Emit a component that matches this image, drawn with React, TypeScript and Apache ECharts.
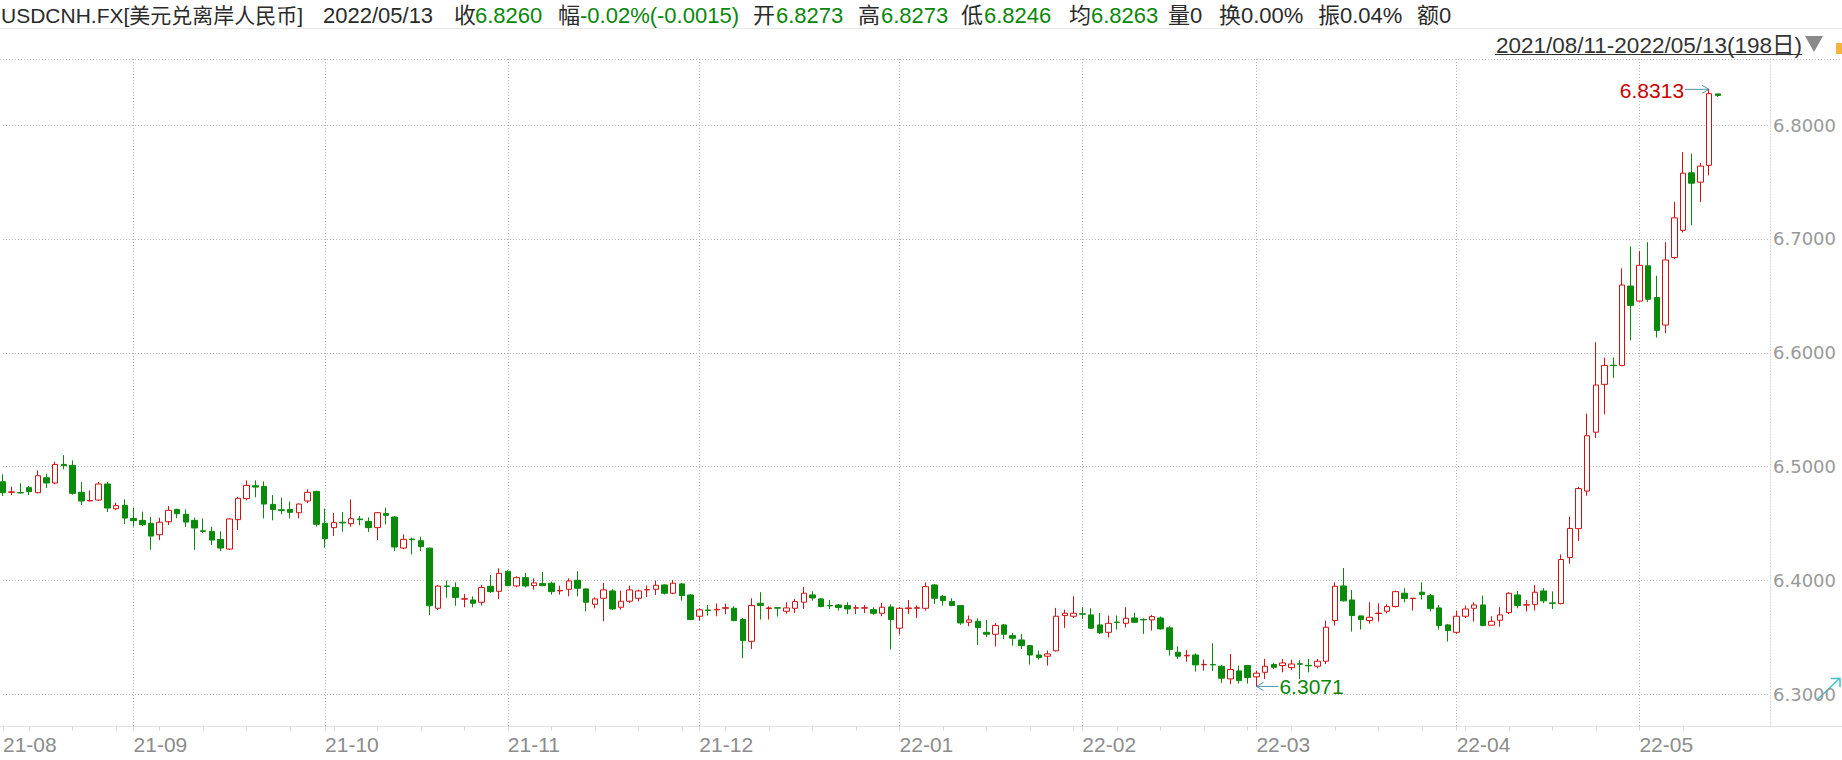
import React, { useEffect, useRef } from 'react';
import * as echarts from 'echarts';

// ---------- data ----------
const symbolName = 'USDCNH.FX[美元兑离岸人民币]';
const quoteDate = '2022/05/13';
const changeText = '-0.02%(-0.0015)';
const avgText = '6.8263';
const rangeText = '2021/08/11-2022/05/13(198日)';

// trading days (weekdays) from 2021-08-11, 198 sessions
const firstDay = '2021-08-11';
const sessionCount = 198;
const padSlots = 6;

// [open, close, low, high]
const ohlc: number[][] = [
  [6.4868, 6.4772, 6.4743, 6.4933], [6.4775, 6.4779, 6.4751, 6.4824], [6.4773, 6.4770, 6.4763, 6.4854], [6.4816, 6.4781, 6.4751, 6.4830],
  [6.4772, 6.4921, 6.4766, 6.4968], [6.4903, 6.4857, 6.4813, 6.4939], [6.4857, 6.5020, 6.4845, 6.5044], [6.5020, 6.5009, 6.4977, 6.5102],
  [6.5012, 6.4766, 6.4754, 6.5056], [6.4775, 6.4699, 6.4664, 6.4865], [6.4700, 6.4703, 6.4696, 6.4792], [6.4707, 6.4848, 6.4699, 6.4865],
  [6.4848, 6.4637, 6.4602, 6.4865], [6.4631, 6.4658, 6.4617, 6.4684], [6.4661, 6.4549, 6.4497, 6.4713], [6.4546, 6.4526, 6.4474, 6.4640],
  [6.4529, 6.4491, 6.4479, 6.4605], [6.4503, 6.4391, 6.4270, 6.4558], [6.4403, 6.4512, 6.4356, 6.4552], [6.4517, 6.4617, 6.4488, 6.4655],
  [6.4625, 6.4587, 6.4549, 6.4631], [6.4582, 6.4514, 6.4470, 6.4625], [6.4529, 6.4462, 6.4270, 6.4552], [6.4437, 6.4432, 6.4418, 6.4546],
  [6.4432, 6.4356, 6.4312, 6.4473], [6.4362, 6.4286, 6.4260, 6.4432], [6.4277, 6.4541, 6.4270, 6.4546], [6.4535, 6.4722, 6.4444, 6.4736],
  [6.4719, 6.4836, 6.4705, 6.4880], [6.4833, 6.4821, 6.4731, 6.4880], [6.4827, 6.4672, 6.4546, 6.4871], [6.4669, 6.4625, 6.4529, 6.4751],
  [6.4622, 6.4614, 6.4582, 6.4728], [6.4625, 6.4599, 6.4546, 6.4693], [6.4596, 6.4672, 6.4546, 6.4678], [6.4699, 6.4775, 6.4681, 6.4801],
  [6.4783, 6.4494, 6.4474, 6.4789], [6.4503, 6.4368, 6.4289, 6.4631], [6.4465, 6.4509, 6.4391, 6.4593], [6.4512, 6.4506, 6.4429, 6.4602],
  [6.4500, 6.4544, 6.4473, 6.4713], [6.4541, 6.4535, 6.4485, 6.4567], [6.4520, 6.4465, 6.4427, 6.4555], [6.4465, 6.4596, 6.4356, 6.4602],
  [6.4590, 6.4573, 6.4494, 6.4640], [6.4558, 6.4295, 6.4260, 6.4567], [6.4286, 6.4362, 6.4274, 6.4406], [6.4365, 6.4359, 6.4230, 6.4377],
  [6.4350, 6.4298, 6.4260, 6.4385], [6.4285, 6.3779, 6.3698, 6.4289], [6.3757, 6.3952, 6.3743, 6.3962], [6.3953, 6.3949, 6.3849, 6.4000],
  [6.3940, 6.3852, 6.3779, 6.3985], [6.3837, 6.3841, 6.3766, 6.3883], [6.3830, 6.3801, 6.3766, 6.3862], [6.3810, 6.3939, 6.3781, 6.3962],
  [6.3950, 6.3903, 6.3892, 6.4050], [6.3906, 6.4064, 6.3839, 6.4108], [6.4082, 6.3956, 6.3950, 6.4088], [6.3953, 6.4026, 6.3941, 6.4038],
  [6.4026, 6.3953, 6.3939, 6.4067], [6.3956, 6.3980, 6.3921, 6.4020], [6.3974, 6.3956, 6.3950, 6.4076], [6.3977, 6.3903, 6.3877, 6.3991],
  [6.3910, 6.3913, 6.3877, 6.3956], [6.3924, 6.3997, 6.3862, 6.4020], [6.4003, 6.3933, 6.3862, 6.4082], [6.3927, 6.3810, 6.3731, 6.3933],
  [6.3792, 6.3839, 6.3757, 6.3854], [6.3845, 6.3918, 6.3643, 6.3980], [6.3909, 6.3751, 6.3742, 6.3927], [6.3766, 6.3819, 6.3745, 6.3912],
  [6.3819, 6.3918, 6.3804, 6.3956], [6.3845, 6.3909, 6.3819, 6.3921], [6.3919, 6.3921, 6.3854, 6.3956], [6.3924, 6.3959, 6.3874, 6.4000],
  [6.3962, 6.3889, 6.3877, 6.3968], [6.3889, 6.3977, 6.3880, 6.4006], [6.3971, 6.3868, 6.3824, 6.3980], [6.3874, 6.3658, 6.3652, 6.3880],
  [6.3687, 6.3743, 6.3649, 6.3757], [6.3742, 6.3737, 6.3693, 6.3786], [6.3743, 6.3748, 6.3687, 6.3798], [6.3757, 6.3762, 6.3705, 6.3798],
  [6.3757, 6.3649, 6.3643, 6.3775], [6.3658, 6.3473, 6.3318, 6.3672], [6.3467, 6.3781, 6.3400, 6.3845], [6.3801, 6.3781, 6.3658, 6.3898],
  [6.3755, 6.3760, 6.3658, 6.3775], [6.3762, 6.3758, 6.3684, 6.3766], [6.3731, 6.3760, 6.3710, 6.3810], [6.3757, 6.3816, 6.3716, 6.3839],
  [6.3810, 6.3889, 6.3751, 6.3944], [6.3874, 6.3848, 6.3824, 6.3906], [6.3839, 6.3772, 6.3766, 6.3848], [6.3782, 6.3778, 6.3751, 6.3830],
  [6.3786, 6.3763, 6.3737, 6.3795], [6.3781, 6.3751, 6.3707, 6.3810], [6.3758, 6.3762, 6.3707, 6.3786], [6.3758, 6.3762, 6.3716, 6.3786],
  [6.3745, 6.3713, 6.3699, 6.3766], [6.3713, 6.3766, 6.3687, 6.3804], [6.3769, 6.3658, 6.3394, 6.3792], [6.3582, 6.3757, 6.3526, 6.3766],
  [6.3754, 6.3760, 6.3707, 6.3830], [6.3757, 6.3762, 6.3672, 6.3781], [6.3757, 6.3947, 6.3737, 6.3985], [6.3962, 6.3845, 6.3795, 6.3971],
  [6.3862, 6.3824, 6.3781, 6.3874], [6.3816, 6.3781, 6.3775, 6.3845], [6.3781, 6.3628, 6.3611, 6.3786], [6.3634, 6.3655, 6.3599, 6.3693],
  [6.3643, 6.3587, 6.3435, 6.3669], [6.3546, 6.3529, 6.3503, 6.3655], [6.3529, 6.3605, 6.3421, 6.3628], [6.3611, 6.3529, 6.3488, 6.3620],
  [6.3517, 6.3494, 6.3429, 6.3541], [6.3479, 6.3429, 6.3400, 6.3532], [6.3429, 6.3347, 6.3263, 6.3435], [6.3347, 6.3324, 6.3307, 6.3386],
  [6.3336, 6.3356, 6.3254, 6.3386], [6.3383, 6.3687, 6.3377, 6.3760], [6.3693, 6.3713, 6.3585, 6.3745], [6.3687, 6.3713, 6.3672, 6.3862],
  [6.3709, 6.3705, 6.3663, 6.3766], [6.3699, 6.3582, 6.3576, 6.3757], [6.3611, 6.3541, 6.3532, 6.3716], [6.3546, 6.3625, 6.3500, 6.3693],
  [6.3636, 6.3632, 6.3570, 6.3693], [6.3625, 6.3669, 6.3587, 6.3766], [6.3672, 6.3634, 6.3628, 6.3716], [6.3659, 6.3655, 6.3532, 6.3669],
  [6.3655, 6.3684, 6.3561, 6.3699], [6.3672, 6.3576, 6.3570, 6.3684], [6.3585, 6.3394, 6.3342, 6.3599], [6.3371, 6.3336, 6.3312, 6.3424],
  [6.3339, 6.3344, 6.3289, 6.3391], [6.3347, 6.3260, 6.3201, 6.3362], [6.3261, 6.3264, 6.3210, 6.3307], [6.3264, 6.3260, 6.3207, 6.3450],
  [6.3248, 6.3143, 6.3102, 6.3260], [6.3137, 6.3219, 6.3090, 6.3356], [6.3207, 6.3122, 6.3096, 6.3254], [6.3254, 6.3149, 6.3096, 6.3260],
  [6.3155, 6.3187, 6.3071, 6.3210], [6.3195, 6.3248, 6.3137, 6.3312], [6.3263, 6.3239, 6.3225, 6.3277], [6.3254, 6.3277, 6.3195, 6.3310],
  [6.3236, 6.3268, 6.3215, 6.3305], [6.3270, 6.3266, 6.3137, 6.3304], [6.3256, 6.3252, 6.3195, 6.3312], [6.3248, 6.3292, 6.3230, 6.3312],
  [6.3292, 6.3590, 6.3268, 6.3649], [6.3649, 6.3950, 6.3605, 6.3985], [6.3953, 6.3822, 6.3816, 6.4111], [6.3830, 6.3693, 6.3552, 6.3918],
  [6.3690, 6.3658, 6.3570, 6.3693], [6.3649, 6.3678, 6.3623, 6.3810], [6.3711, 6.3714, 6.3640, 6.3801], [6.3731, 6.3772, 6.3713, 6.3792],
  [6.3772, 6.3903, 6.3763, 6.3912], [6.3889, 6.3842, 6.3810, 6.3933], [6.3842, 6.3845, 6.3737, 6.3848], [6.3898, 6.3877, 6.3833, 6.3985],
  [6.3868, 6.3754, 6.3728, 6.3883], [6.3760, 6.3605, 6.3570, 6.3786], [6.3611, 6.3561, 6.3465, 6.3620], [6.3546, 6.3687, 6.3532, 6.3737],
  [6.3687, 6.3751, 6.3672, 6.3781], [6.3757, 6.3786, 6.3640, 6.3810], [6.3786, 6.3605, 6.3599, 6.3868], [6.3608, 6.3643, 6.3605, 6.3687],
  [6.3652, 6.3699, 6.3596, 6.3766], [6.3719, 6.3889, 6.3707, 6.3898], [6.3874, 6.3781, 6.3757, 6.3909], [6.3785, 6.3788, 6.3728, 6.3830],
  [6.3792, 6.3898, 6.3737, 6.3962], [6.3909, 6.3822, 6.3801, 6.3933], [6.3804, 6.3800, 6.3750, 6.3905], [6.3798, 6.4185, 6.3792, 6.4230],
  [6.4203, 6.4458, 6.4148, 6.4560], [6.4456, 6.4808, 6.4347, 6.4823], [6.4786, 6.5272, 6.4745, 6.5466], [6.5303, 6.5717, 6.5253, 6.6093],
  [6.5723, 6.5889, 6.5460, 6.5958], [6.5891, 6.5887, 6.5780, 6.5958], [6.5889, 6.6595, 6.5883, 6.6742], [6.6586, 6.6416, 6.6109, 6.6934],
  [6.6454, 6.6768, 6.6448, 6.6893], [6.6764, 6.6470, 6.6448, 6.6971], [6.6485, 6.6197, 6.6134, 6.6677], [6.6244, 6.6815, 6.6172, 6.6971],
  [6.6837, 6.7185, 6.6824, 6.7326], [6.7075, 6.7577, 6.7056, 6.7762], [6.7580, 6.7489, 6.7119, 6.7749], [6.7498, 6.7639, 6.7323, 6.7668],
  [6.7646, 6.8275, 6.7558, 6.8313], [6.8273, 6.8260, 6.8246, 6.8273],
];

const yTickValues = [6.3, 6.4, 6.5, 6.6, 6.7, 6.8];
const yMin = 6.27234;
const yMax = 6.85795;

// ---------- helpers ----------
function weekdayDates(start: string, count: number): string[] {
  const out: string[] = [];
  const d = new Date(start + 'T00:00:00Z');
  while (out.length < count) {
    const wd = d.getUTCDay();
    if (wd !== 0 && wd !== 6) out.push(d.toISOString().slice(0, 10));
    d.setUTCDate(d.getUTCDate() + 1);
  }
  return out;
}

const dates = weekdayDates(firstDay, sessionCount);
const categories = [...dates];
for (let k = 1; k <= padSlots; k++) categories.push('pad' + k);

const monthStart = new Set<number>();
const weekTicks = new Set<number>();
dates.forEach((d, i) => {
  if (i === 0 || d.slice(0, 7) !== dates[i - 1].slice(0, 7)) monthStart.add(i);
  if (new Date(d + 'T00:00:00Z').getUTCDay() === 1) weekTicks.add(i);
});

// ---------- style ----------
const UP = '#d41212';
const DOWN = '#0a8a0a';
const GRID = '#b8b8b8';
const DARK = '#2a2a2a';
const GREEN_TXT = '#0a870a';
const LATIN = '"Liberation Sans", "Noto Sans CJK SC", sans-serif';

export default function App() {
  const ref = useRef<HTMLDivElement>(null);

  useEffect(() => {
    if (!ref.current) return;
    const chart = echarts.init(ref.current, undefined, { renderer: 'svg' });

    const last = ohlc[ohlc.length - 1];
    const fmt = (v: number) => v.toFixed(4);

    const headerItems: { t: string; x: number; c: string; s: number }[] = [
      { t: symbolName, x: 1, c: DARK, s: 21 },
      { t: quoteDate, x: 323, c: DARK, s: 22 },
      { t: '收', x: 454, c: DARK, s: 22 }, { t: fmt(last[1]), x: 475, c: GREEN_TXT, s: 22 },
      { t: '幅', x: 558, c: DARK, s: 22 }, { t: changeText, x: 580, c: GREEN_TXT, s: 22 },
      { t: '开', x: 753, c: DARK, s: 22 }, { t: fmt(last[0]), x: 776, c: GREEN_TXT, s: 22 },
      { t: '高', x: 858, c: DARK, s: 22 }, { t: fmt(last[3]), x: 881, c: GREEN_TXT, s: 22 },
      { t: '低', x: 961, c: DARK, s: 22 }, { t: fmt(last[2]), x: 984, c: GREEN_TXT, s: 22 },
      { t: '均', x: 1069, c: DARK, s: 22 }, { t: avgText, x: 1091, c: GREEN_TXT, s: 22 },
      { t: '量0', x: 1168, c: DARK, s: 22 },
      { t: '换0.00%', x: 1219, c: DARK, s: 22 },
      { t: '振0.04%', x: 1318, c: DARK, s: 22 },
      { t: '额0', x: 1417, c: DARK, s: 22 },
    ];

    const isTick = (v: number) => yTickValues.some((t) => Math.abs(t - v) < 1e-6);

    chart.setOption({
      animation: false,
      backgroundColor: '#fff',
      grid: { left: 2, right: 72, top: 59, bottom: 34, containLabel: false },
      xAxis: {
        type: 'category',
        data: categories,
        boundaryGap: false,
        axisLine: { show: false },
        axisTick: {
          show: true,
          interval: (i: number) => weekTicks.has(i) || monthStart.has(i),
          length: 5,
          lineStyle: { color: '#dadada' },
        },
        axisLabel: {
          interval: (i: number) => monthStart.has(i),
          formatter: (v: string) => v.slice(2, 7),
          color: '#8c8c8c',
          fontSize: 21,
          fontFamily: 'Liberation Sans',
          align: 'left',
          margin: 8,
        },
        splitLine: {
          show: true,
          interval: (i: number) => monthStart.has(i) && i > 0,
          lineStyle: { color: GRID, type: [1, 2] },
        },
      },
      yAxis: {
        type: 'value',
        position: 'right',
        min: yMin,
        max: yMax,
        splitNumber: 5,
        axisLine: { show: true, lineStyle: { color: '#d0d0d0', type: [1, 2] } },
        axisTick: { show: false },
        axisLabel: {
          margin: 3,
          color: '#999',
          fontSize: 18,
          fontFamily: 'DejaVu Sans',
          align: 'left',
          formatter: (v: number) => (isTick(v) ? v.toFixed(4) : ''),
        },
        splitLine: { show: true, lineStyle: { color: GRID, type: [1, 2] } },
      },
      series: [
        {
          type: 'candlestick',
          data: ohlc,
          barWidth: 6,
          clip: false,
          itemStyle: {
            color: '#ffffff',
            color0: DOWN,
            borderColor: UP,
            borderColor0: DOWN,
            borderWidth: 1,
          },
        },
      ],
    });

    // annotations for the extreme high / low
    let iMax = 0, iMin = 0;
    ohlc.forEach((r, i) => {
      if (r[3] > ohlc[iMax][3]) iMax = i;
      if (r[2] < ohlc[iMin][2]) iMin = i;
    });
    const pMax = chart.convertToPixel({ gridIndex: 0 }, [iMax, ohlc[iMax][3]]) as number[];
    const pMin = chart.convertToPixel({ gridIndex: 0 }, [iMin, ohlc[iMin][2]]) as number[];
    const ARROW = '#4b95a8';

    const graphic: any[] = [
      { type: 'line', silent: true, shape: { x1: 0, y1: 28.5, x2: 1842, y2: 28.5 }, style: { stroke: '#e8e8e8', lineWidth: 1 } },
      { type: 'line', silent: true, shape: { x1: 0, y1: 59.5, x2: 1842, y2: 59.5 }, style: { stroke: GRID, lineWidth: 1, lineDash: [1, 2] } },
      { type: 'line', silent: true, shape: { x1: 0, y1: 726.5, x2: 1842, y2: 726.5 }, style: { stroke: '#e2e2e2', lineWidth: 1 } },
      ...headerItems.map((h) => ({
        type: 'text', silent: true, x: h.x, y: 15,
        style: { text: h.t, fill: h.c, fontSize: h.s, fontFamily: LATIN, align: 'left', textAlign: 'left', verticalAlign: 'middle', textVerticalAlign: 'middle' },
      })),
      {
        type: 'text', silent: true, x: 1802, y: 45,
        style: { text: rangeText, fill: '#333', fontSize: 22.5, fontFamily: LATIN, align: 'right', textAlign: 'right', verticalAlign: 'middle', textVerticalAlign: 'middle' },
      },
      { type: 'line', silent: true, shape: { x1: 1495, y1: 54.5, x2: 1802, y2: 54.5 }, style: { stroke: '#333', lineWidth: 1 } },
      { type: 'polygon', silent: true, shape: { points: [[1805, 36], [1823, 36], [1814, 52]] }, style: { fill: '#8a8a8a' } },
      { type: 'rect', silent: true, shape: { x: 1836, y: 43, width: 8, height: 11 }, style: { fill: '#f3b53c' } },
      { type: 'polyline', silent: true, shape: { points: [[1817, 700], [1840, 678]] }, style: { stroke: '#3fc0c8', lineWidth: 1.5, fill: 'none' } },
      { type: 'polyline', silent: true, shape: { points: [[1831, 678.5], [1840, 678.5], [1840, 687]] }, style: { stroke: '#3fc0c8', lineWidth: 1.5, fill: 'none' } },
      // max label
      { type: 'line', silent: true, shape: { x1: pMax[0] - 24, y1: pMax[1], x2: pMax[0], y2: pMax[1] }, style: { stroke: ARROW, lineWidth: 1 } },
      { type: 'polyline', silent: true, shape: { points: [[pMax[0] - 7, pMax[1] - 4], [pMax[0], pMax[1]], [pMax[0] - 7, pMax[1] + 4]] }, style: { stroke: ARROW, lineWidth: 1, fill: 'none' } },
      {
        type: 'text', silent: true, x: pMax[0] - 25, y: pMax[1] + 1,
        style: { text: fmt(ohlc[iMax][3]), fill: '#c80000', fontSize: 21, fontFamily: 'Liberation Sans', align: 'right', textAlign: 'right', verticalAlign: 'middle', textVerticalAlign: 'middle' },
      },
      // min label
      { type: 'line', silent: true, shape: { x1: pMin[0], y1: pMin[1], x2: pMin[0] + 22, y2: pMin[1] }, style: { stroke: ARROW, lineWidth: 1 } },
      { type: 'polyline', silent: true, shape: { points: [[pMin[0] + 7, pMin[1] - 4], [pMin[0], pMin[1]], [pMin[0] + 7, pMin[1] + 4]] }, style: { stroke: ARROW, lineWidth: 1, fill: 'none' } },
      {
        type: 'text', silent: true, x: pMin[0] + 23, y: pMin[1],
        style: { text: fmt(ohlc[iMin][2]), fill: GREEN_TXT, fontSize: 21, fontFamily: 'Liberation Sans', align: 'left', textAlign: 'left', verticalAlign: 'middle', textVerticalAlign: 'middle' },
      },
    ];
    chart.setOption({ graphic });

    return () => chart.dispose();
  }, []);

  return (
    <div
      ref={ref}
      style={{ position: 'absolute', left: 0, top: 0, width: 1842, height: 760, background: '#fff' }}
    />
  );
}
